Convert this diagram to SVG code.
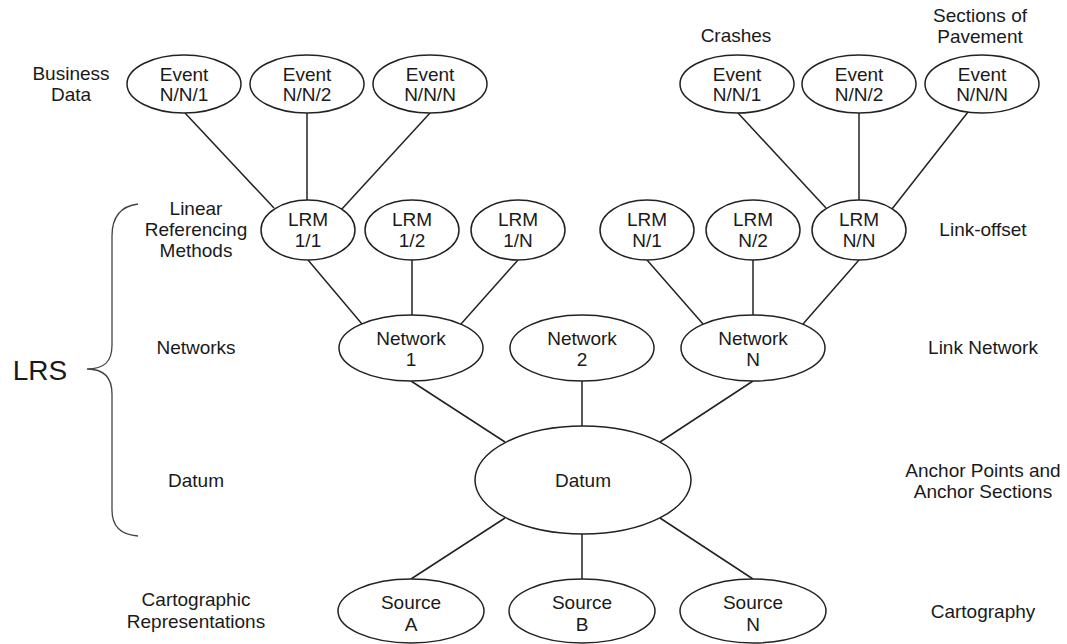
<svg xmlns="http://www.w3.org/2000/svg" width="1067" height="644" viewBox="0 0 1067 644">
<style>
  .n ellipse { fill: #fff; stroke: #222; stroke-width: 1.5; }
  text { font-family: "Liberation Sans", Arial, sans-serif; font-size: 19px; fill: #1a1a1a; text-anchor: middle; }
  .c line, .c path { stroke: #222; stroke-width: 1.5; fill: none; }
  .brace { stroke: #444; stroke-width: 1.3; fill: none; }
</style>
<rect width="1067" height="644" fill="#fff"/>

<g id="connectors" class="c">
  <line x1="185" y1="113" x2="274" y2="208"/>
  <line x1="307" y1="113" x2="307" y2="200"/>
  <line x1="430" y1="113" x2="341" y2="210"/>
  <line x1="308" y1="260" x2="362" y2="324"/>
  <line x1="412" y1="260" x2="412" y2="315"/>
  <line x1="518" y1="260" x2="461" y2="324"/>
  <line x1="738" y1="113" x2="826" y2="208"/>
  <line x1="859" y1="113" x2="859" y2="200"/>
  <line x1="968" y1="112" x2="892" y2="209"/>
  <line x1="647" y1="260" x2="703" y2="324"/>
  <line x1="753" y1="260" x2="753" y2="315"/>
  <line x1="859" y1="260" x2="803" y2="324"/>
  <line x1="411" y1="381" x2="505" y2="442"/>
  <line x1="582" y1="381" x2="582" y2="426"/>
  <line x1="753" y1="381" x2="660" y2="442"/>
  <line x1="505" y1="518" x2="411" y2="579"/>
  <line x1="582" y1="534" x2="582" y2="579"/>
  <line x1="660" y1="518" x2="753" y2="579"/>
</g>

<g id="ev-l1" class="n"><ellipse cx="184" cy="84" rx="57" ry="29"/><text x="184" y="81">Event</text><text x="184" y="101">N/N/1</text></g>
<g id="ev-l2" class="n"><ellipse cx="307" cy="84" rx="57" ry="29"/><text x="307" y="81">Event</text><text x="307" y="101">N/N/2</text></g>
<g id="ev-l3" class="n"><ellipse cx="430" cy="84" rx="57" ry="29"/><text x="430" y="81">Event</text><text x="430" y="101">N/N/N</text></g>
<g id="ev-r1" class="n"><ellipse cx="737" cy="84" rx="57" ry="29"/><text x="737" y="81">Event</text><text x="737" y="101">N/N/1</text></g>
<g id="ev-r2" class="n"><ellipse cx="859" cy="84" rx="57" ry="29"/><text x="859" y="81">Event</text><text x="859" y="101">N/N/2</text></g>
<g id="ev-r3" class="n"><ellipse cx="982" cy="84" rx="57" ry="29"/><text x="982" y="81">Event</text><text x="982" y="101">N/N/N</text></g>

<g id="lrm-11" class="n"><ellipse cx="308" cy="230" rx="47" ry="30"/><text x="308" y="226">LRM</text><text x="308" y="247">1/1</text></g>
<g id="lrm-12" class="n"><ellipse cx="412" cy="230" rx="47" ry="30"/><text x="412" y="226">LRM</text><text x="412" y="247">1/2</text></g>
<g id="lrm-1n" class="n"><ellipse cx="518" cy="230" rx="47" ry="30"/><text x="518" y="226">LRM</text><text x="518" y="247">1/N</text></g>
<g id="lrm-n1" class="n"><ellipse cx="647" cy="230" rx="47" ry="30"/><text x="647" y="226">LRM</text><text x="647" y="247">N/1</text></g>
<g id="lrm-n2" class="n"><ellipse cx="753" cy="230" rx="47" ry="30"/><text x="753" y="226">LRM</text><text x="753" y="247">N/2</text></g>
<g id="lrm-nn" class="n"><ellipse cx="859" cy="230" rx="47" ry="30"/><text x="859" y="226">LRM</text><text x="859" y="247">N/N</text></g>

<g id="net-1" class="n"><ellipse cx="411" cy="348" rx="72" ry="33"/><text x="411" y="345">Network</text><text x="411" y="366">1</text></g>
<g id="net-2" class="n"><ellipse cx="582" cy="348" rx="72" ry="33"/><text x="582" y="345">Network</text><text x="582" y="366">2</text></g>
<g id="net-n" class="n"><ellipse cx="753" cy="348" rx="72" ry="33"/><text x="753" y="345">Network</text><text x="753" y="366">N</text></g>

<g id="datum" class="n"><ellipse cx="583" cy="480" rx="108" ry="54"/><text x="583" y="487">Datum</text></g>

<g id="src-a" class="n"><ellipse cx="411" cy="611" rx="73" ry="32"/><text x="411" y="609">Source</text><text x="411" y="631">A</text></g>
<g id="src-b" class="n"><ellipse cx="582" cy="611" rx="73" ry="32"/><text x="582" y="609">Source</text><text x="582" y="631">B</text></g>
<g id="src-n" class="n"><ellipse cx="753" cy="611" rx="73" ry="32"/><text x="753" y="609">Source</text><text x="753" y="631">N</text></g>

<g id="labels">
  <text x="71" y="80">Business</text><text x="71" y="101">Data</text>
  <text x="196" y="215">Linear</text><text x="196" y="236">Referencing</text><text x="196" y="257">Methods</text>
  <text x="196" y="354">Networks</text>
  <text x="196" y="487">Datum</text>
  <text x="196" y="606">Cartographic</text><text x="196" y="628">Representations</text>
  <text x="736" y="42">Crashes</text>
  <text x="980" y="22">Sections of</text><text x="980" y="43">Pavement</text>
  <text x="983" y="236">Link-offset</text>
  <text x="983" y="354">Link Network</text>
  <text x="983" y="477">Anchor Points and</text><text x="983" y="498">Anchor Sections</text>
  <text x="983" y="618">Cartography</text>
</g>

<g id="lrs">
  <text x="40" y="380" style="font-size:28px">LRS</text>
  <path class="brace" d="M138,204 C122,206 112,216 112,236 L112,345 C112,362 104,369 87,369 C104,369 112,377 112,394 L112,510 C112,528 122,535 138,536"/>
</g>
</svg>
